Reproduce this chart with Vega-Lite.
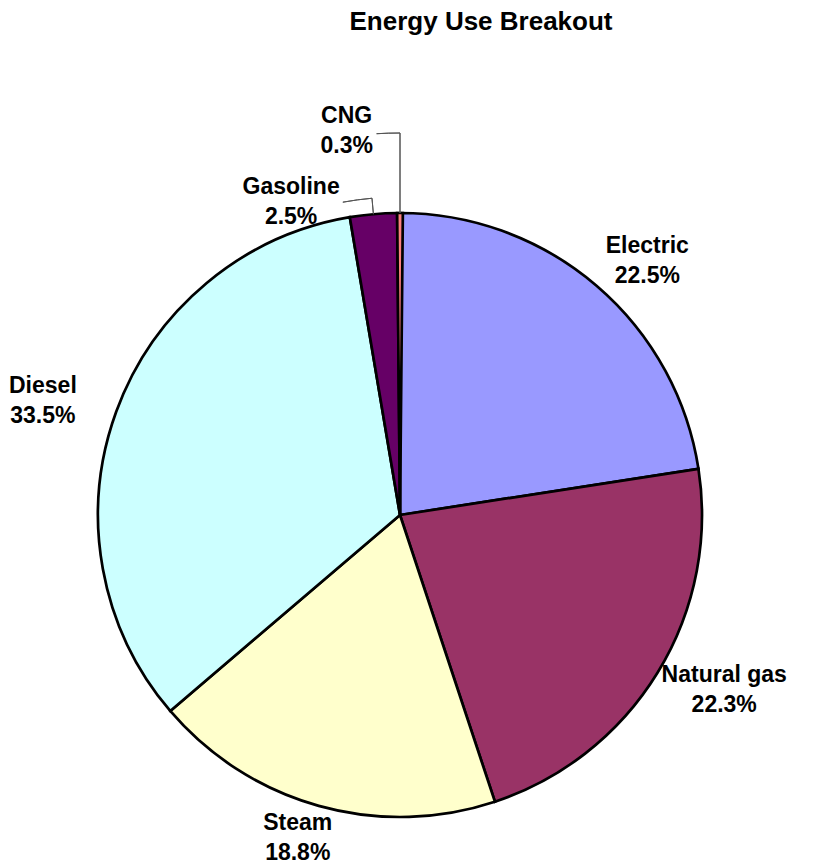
{
  "$schema": "https://vega.github.io/schema/vega-lite/v6.json",
  "width": 800,
  "height": 630,
  "autosize": "none",
  "padding": {"left": 0, "top": 200, "right": 31, "bottom": 35},
  "background": "white",
  "config": {
    "view": {"stroke": null},
    "font": "Liberation Sans",
    "text": {"font": "Liberation Sans", "fontWeight": "bold", "fontSize": 23, "lineHeight": 30, "align": "center", "baseline": "middle", "color": "black", "dy": -15}
  },
  "title": {
    "text": "Energy Use Breakout",
    "anchor": "middle",
    "frame": "group",
    "dx": 81,
    "offset": 49,
    "baseline": "alphabetic",
    "font": "Liberation Sans",
    "fontSize": 26,
    "fontWeight": "bold",
    "color": "black"
  },
  "data": {
    "values": [
      {"k": 1, "name": "Electric", "share": 0.225},
      {"k": 2, "name": "Natural gas", "share": 0.223},
      {"k": 3, "name": "Steam", "share": 0.188},
      {"k": 4, "name": "Diesel", "share": 0.335},
      {"k": 5, "name": "Gasoline", "share": 0.025},
      {"k": 6, "name": "CNG", "share": 0.003}
    ]
  },
  "transform": [
    {"stack": "share", "groupby": [], "sort": [{"field": "k", "order": "ascending"}], "as": ["s0", "s1"]},
    {"calculate": "(datum.s0 + datum.s1) / 2", "as": "mid"},
    {"calculate": "[datum.name, format(datum.share, '.1%')]", "as": "label"}
  ],
  "layer": [
    {
      "mark": {"type": "arc", "radius": 302, "stroke": "black", "strokeWidth": 2.7},
      "encoding": {
        "theta": {"field": "s0", "type": "quantitative"},
        "theta2": {"field": "s1"},
        "color": {
          "field": "name",
          "type": "nominal",
          "legend": null,
          "scale": {
            "domain": ["Electric", "Natural gas", "Steam", "Diesel", "Gasoline", "CNG"],
            "range": ["#9999FF", "#993366", "#FFFFCC", "#CCFFFF", "#660066", "#FF8080"]
          }
        }
      }
    },
    {
      "transform": [{"filter": "datum.k == 6"}],
      "mark": {"type": "arc", "filled": false, "stroke": "#555555", "strokeWidth": 1, "radius": 382, "radius2": 302},
      "encoding": {
        "theta": {"field": "mid", "type": "quantitative"},
        "theta2": {"field": "mid"}
      }
    },
    {
      "transform": [{"filter": "datum.k == 6"}],
      "mark": {"type": "arc", "filled": false, "stroke": "#555555", "strokeWidth": 1, "radius": 382, "radius2": 382, "thetaOffset": -0.0613},
      "encoding": {
        "theta": {"field": "mid", "type": "quantitative"},
        "theta2": {"field": "mid"}
      }
    },
    {
      "transform": [{"filter": "datum.k == 5"}],
      "mark": {"type": "arc", "filled": false, "stroke": "#555555", "strokeWidth": 1, "radius": 318, "radius2": 302},
      "encoding": {
        "theta": {"field": "mid", "type": "quantitative"},
        "theta2": {"field": "mid"}
      }
    },
    {
      "transform": [{"filter": "datum.k == 5"}],
      "mark": {"type": "arc", "filled": false, "stroke": "#555555", "strokeWidth": 1, "radius": 318, "radius2": 318, "thetaOffset": -0.0925},
      "encoding": {
        "theta": {"field": "mid", "type": "quantitative"},
        "theta2": {"field": "mid"}
      }
    },
    {
      "transform": [{"filter": "datum.k <= 4"}],
      "mark": {
        "type": "text",
        "radius": {"expr": "sqrt(pow(380 * sin(scale('theta', datum.mid)), 2) + pow(335 * cos(scale('theta', datum.mid)), 2))"},
        "thetaOffset": {"expr": "atan2(380 * sin(scale('theta', datum.mid)), 335 * cos(scale('theta', datum.mid))) - scale('theta', datum.mid)"}
      },
      "encoding": {
        "theta": {"field": "mid", "type": "quantitative"},
        "text": {"field": "label"}
      }
    },
    {
      "transform": [{"filter": "datum.k == 5"}],
      "mark": {"type": "text", "radius": 331, "thetaOffset": -0.247},
      "encoding": {
        "theta": {"field": "mid", "type": "quantitative"},
        "text": {"field": "label"}
      }
    },
    {
      "transform": [{"filter": "datum.k == 6"}],
      "mark": {"type": "text", "radius": 388, "thetaOffset": -0.1379},
      "encoding": {
        "theta": {"field": "mid", "type": "quantitative"},
        "text": {"field": "label"}
      }
    }
  ]
}
